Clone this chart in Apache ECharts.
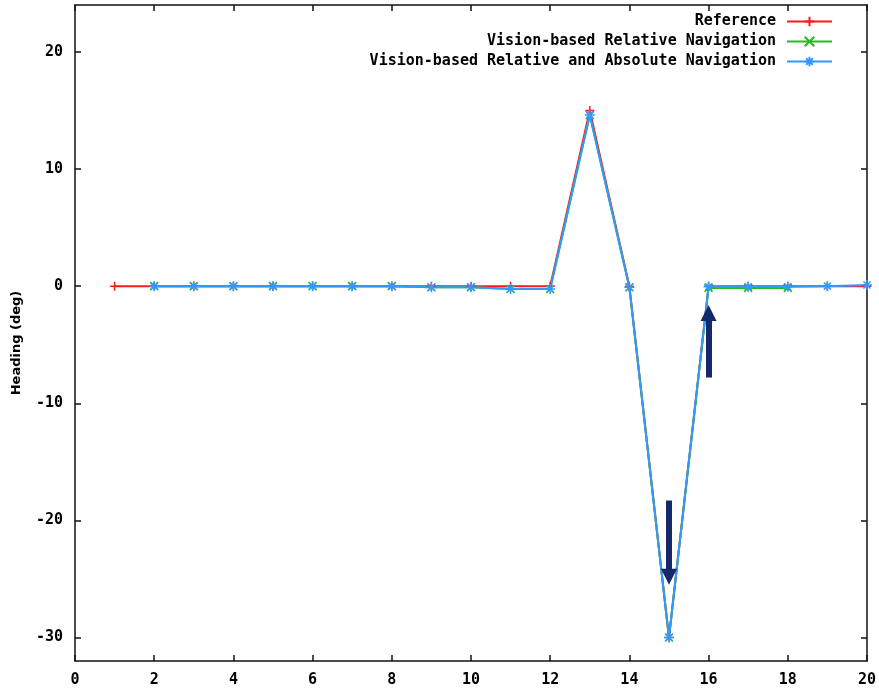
<!DOCTYPE html>
<html>
<head>
<meta charset="utf-8">
<script src="https://cdn.jsdelivr.net/npm/echarts@6/dist/echarts.min.js"></script>
<style>
html,body{margin:0;padding:0;background:#fff;}
#chart{width:879px;height:696px;}
</style>
</head>
<body>
<div id="chart"></div>
<script>
// ---- data ----
const refX = [1,2,3,4,5,6,7,8,9,10,11,12,13,14,15,16,17,18,19,20];
const refY = [0,0,0,0,0,0,0,0,0,0,0,0,15,0,-30,0,0,0,0,0];
const relX = [2,3,4,5,6,7,8,9,10,11,12,13,14,15,16,17,18];
const relY = [0,0,0,0,0,0,0,-0.1,-0.1,-0.25,-0.25,14.6,-0.1,-30,-0.15,-0.15,-0.15];
const absX = [2,3,4,5,6,7,8,9,10,11,12,13,14,15,16,17,18,19,20];
const absY = [0,0,0,0,0,0,0,-0.1,-0.1,-0.25,-0.25,14.6,-0.1,-30,-0.05,-0.05,-0.05,0,0.1];
const xTicks = [0,2,4,6,8,10,12,14,16,18,20];
const yTicks = [-30,-20,-10,0,10,20];
const seriesNames = ['Reference','Vision-based Relative Navigation','Vision-based Relative and Absolute Navigation'];
// annotation arrows: [x, yStart, yEnd]
const arrows = [[15,-18.3,-24.8],[16,-7.8,-2.3]];

const pair = (xs, ys) => xs.map((x,i)=>[x, ys[i]]);
const monoFont = '"DejaVu Sans Mono", monospace';
const plus = 'path://M0,5L10,5M5,0L5,10';
const cross = 'path://M0,0L10,10M10,0L0,10';
const star = 'path://M0,5L10,5M5,0L5,10M1.5,1.5L8.5,8.5M8.5,1.5L1.5,8.5';
const colors = ['#ff1a1a','#1fbf1f','#3399ff'];

function mkSeries(name, data, color, sym, size){
  return {
    name, type:'line', data, symbol:sym, symbolSize:size, showAllSymbol:true,
    xAxisIndex:0, yAxisIndex:0,
    lineStyle:{color, width:2},
    itemStyle:{color, borderColor:color, borderWidth:1.5},
    emphasis:{disabled:true}, animation:false
  };
}

const axisCommon = {
  axisLine:{show:true, onZero:false, lineStyle:{color:'#111', width:1.5}},
  axisTick:{show:true, inside:true, length:6, lineStyle:{color:'#111', width:1.5}},
  splitLine:{show:false}
};

const legendTop = [14, 34, 54];
const option = {
  backgroundColor:'#fff',
  animation:false,
  grid:{left:75, right:12, top:5, bottom:35, containLabel:false},
  legend: seriesNames.map((n,i)=>({
    data:[n], orient:'vertical', right:46, top:legendTop[i], padding:0,
    align:'right', itemWidth:45, itemHeight:12, selectedMode:false,
    textStyle:{fontFamily:monoFont, fontWeight:'bold', fontSize:15, color:'#000', padding:[0,6,0,0]}
  })),
  xAxis:[
    Object.assign({type:'value', min:0, max:20, interval:2, position:'bottom',
      axisLabel:{show:true, margin:12, fontFamily:monoFont, fontWeight:'bold', fontSize:15, color:'#000',
        customValues:xTicks}}, axisCommon,
      {axisTick:Object.assign({}, axisCommon.axisTick, {customValues:xTicks})}),
    Object.assign({type:'value', min:0, max:20, interval:2, position:'top',
      axisLabel:{show:false}}, axisCommon,
      {axisTick:Object.assign({}, axisCommon.axisTick, {customValues:xTicks})})
  ],
  yAxis:[
    Object.assign({type:'value', min:-32, max:24, position:'left',
      name:'Heading (deg)', nameLocation:'middle', nameGap:52, nameRotate:90,
      nameTextStyle:{fontFamily:'"DejaVu Sans", sans-serif', fontWeight:'bold', fontSize:13, color:'#000', padding:[0,20,0,0]},
      axisLabel:{show:true, margin:12, fontFamily:monoFont, fontWeight:'bold', fontSize:15, color:'#000',
        customValues:yTicks}}, axisCommon,
      {axisTick:Object.assign({}, axisCommon.axisTick, {customValues:yTicks})}),
    Object.assign({type:'value', min:-32, max:24, position:'right',
      axisLabel:{show:false}}, axisCommon,
      {axisTick:Object.assign({}, axisCommon.axisTick, {customValues:yTicks})})
  ],
  series:[
    mkSeries(seriesNames[0], pair(refX, refY), colors[0], plus, 9),
    mkSeries(seriesNames[1], pair(relX, relY), colors[1], cross, 8),
    Object.assign(mkSeries(seriesNames[2], pair(absX, absY), colors[2], star, 10), {
      markLine:{
        silent:true, animation:false,
        symbol:['none','triangle'], symbolSize:16,
        lineStyle:{color:'#14286a', width:6, type:'solid'},
        itemStyle:{color:'#14286a'},
        label:{show:false},
        data: arrows.map(a=>[{coord:[a[0],a[1]]},{coord:[a[0],a[2]]}])
      }
    })
  ]
};
const chart = echarts.init(document.getElementById('chart'), null, {renderer:'canvas'});
chart.setOption(option);
</script>
</body>
</html>
